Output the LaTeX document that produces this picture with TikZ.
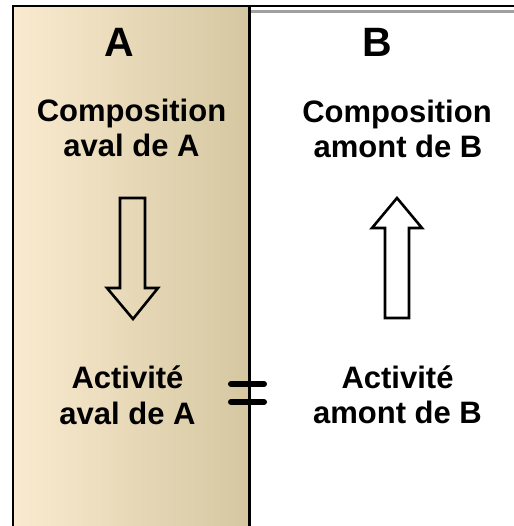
\documentclass[tikz,border=0pt]{standalone}
\usepackage{fontspec}
\setmainfont{Liberation Sans}
\begin{document}
\begin{tikzpicture}[x=1pt,y=-1pt,
  lbl/.style={font=\bfseries\fontsize{31}{35}\selectfont, inner sep=0pt, anchor=base},
  big/.style={font=\bfseries\fontsize{41}{45}\selectfont, inner sep=0pt, anchor=base},
  hollow/.style={draw=black, line width=2.6pt, line join=miter},
  eqbar/.style={line width=6pt, line cap=round}]
\useasboundingbox (0,0) rectangle (513,526);
\fill[white] (0,0) rectangle (513,526);
% left panel
\shade[left color={rgb,255:red,250;green,235;blue,208}, middle color={rgb,255:red,240;green,234;blue,214}, right color={rgb,255:red,212;green,199;blue,160}] (13,6) rectangle (249.5,530);
\draw[line width=2.5pt] (13,530) -- (13,6) -- (249.5,6) -- (249.5,530);
\draw[line width=1.6pt] (249.5,6) -- (515,6);
\draw[line width=3pt, draw={rgb,255:red,160;green,160;blue,160}] (251,11.5) -- (515,11.5);
% titles
\node[big] (tA) at (119,57) {A};
\node[big] (tB) at (377,57) {B};
% top texts
\node[lbl] (cA1) at (131.5,122) {Composition};
\node[lbl] (cA2) at (131.5,157) {aval de A};
\node[lbl] (cB1) at (397,123) {Composition};
\node[lbl] (cB2) at (398,158) {amont de B};
% bottom texts
\node[lbl] (aA1) at (127.5,388) {Activité};
\node[lbl] (aA2) at (127.5,424) {aval de A};
\node[lbl] (aB1) at (397.5,388) {Activité};
\node[lbl] (aB2) at (397.5,423) {amont de B};
% arrows
\draw[hollow] (120,198) -- (145,198) -- (145,288) -- (158,288) -- (133,319) -- (107,288) -- (120,288) -- cycle;
\draw[hollow, fill=white] (385,318) -- (409,318) -- (409,228) -- (422,228) -- (397,198) -- (372,228) -- (385,228) -- cycle;
% equals
\draw[eqbar] (231,384) -- (264,384);
\draw[eqbar] (231,402) -- (264,402);
\end{tikzpicture}
\end{document}
